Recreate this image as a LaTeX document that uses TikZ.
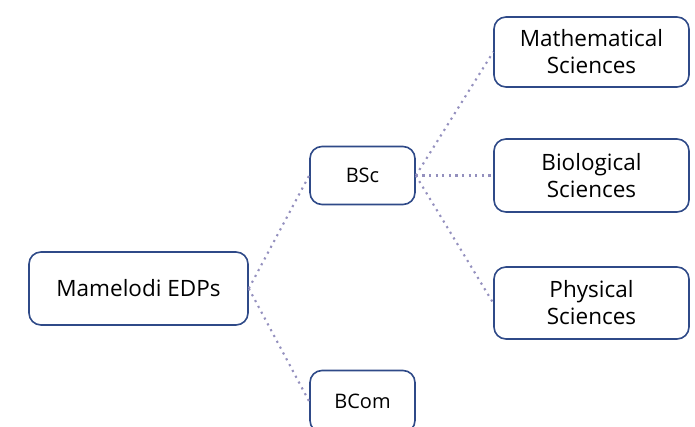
\documentclass[tikz,border=0pt]{standalone}
\usepackage{fontspec}
\setmainfont{Open Sans}
\definecolor{boxline}{HTML}{2F4A88}
\definecolor{linkline}{HTML}{9490BE}
\tikzset{
  unit/.style={draw=boxline, line width=1.6pt, rounded corners=12pt, fill=white,
    align=center, inner sep=0pt, font=\fontsize{22.5}{27}\selectfont},
  link/.style={linkline, line width=2.1pt, dash pattern=on 2.1pt off 4.5pt}
}

\begin{document}
\begin{tikzpicture}[x=1pt,y=-1pt]
    \useasboundingbox (0,0) rectangle (695,427);
    \clip (0,0) rectangle (695,427);
    % programme tree
    \node[unit, minimum width=219pt, minimum height=73pt]
        (edp) at (138.5,288.5) {Mamelodi EDPs};
    \node[unit, minimum width=105pt, minimum height=58pt, font=\fontsize{20}{24}\selectfont]
        (bsc) at (362.5,175.5) {BSc};
    \node[unit, minimum width=105pt, minimum height=62pt, font=\fontsize{20}{24}\selectfont]
        (bcom) at (362.5,401.5) {BCom};
    \node[unit, minimum width=195pt, minimum height=70pt] (maths) at (591.5,52)
        {Mathematical\\Sciences};
    \node[unit, minimum width=195pt, minimum height=73pt] (bio) at (591.5,175.5)
        {Biological\\Sciences};
    \node[unit, minimum width=195pt, minimum height=72pt] (phys) at (591.5,303)
        {Physical\\Sciences};
    \draw[link] (edp.east) -- (bsc.west);
    \draw[link] (edp.east) -- (bcom.west);
    \draw[link] (bsc.east) -- (maths.west);
    \draw[link] (bsc.east) -- (bio.west);
    \draw[link] (bsc.east) -- (phys.west);
\end{tikzpicture}
\end{document}
